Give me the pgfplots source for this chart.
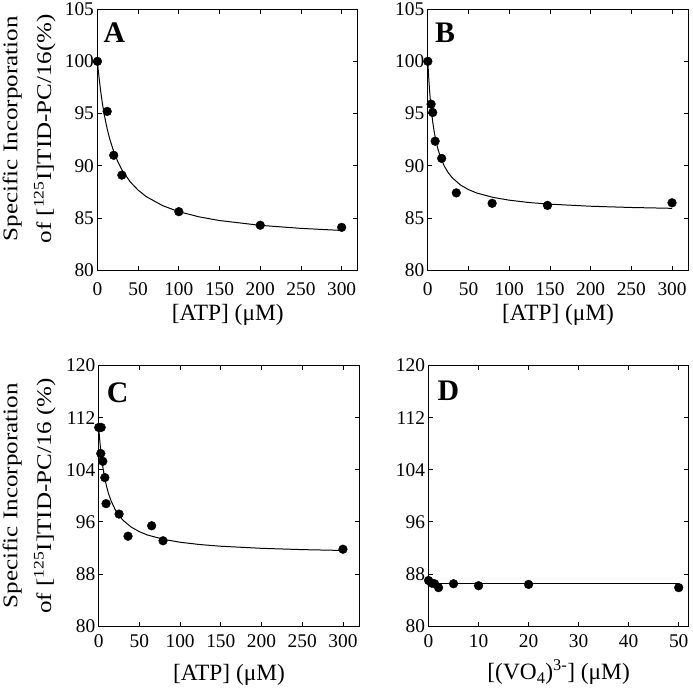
\documentclass[border=0pt]{standalone}
\usepackage{fontspec}
\setmainfont{Liberation Serif}
\usepackage{pgfplots}
\pgfplotsset{compat=1.18}
\newcommand\tfs{\fontsize{19.5}{21}\selectfont}
\newcommand\lfs{\fontsize{23.5}{26}\selectfont}
\newcommand\yfs{\fontsize{21}{34}\selectfont}
\newcommand\pfs{\fontsize{30}{30}\selectfont\bfseries}
\pgfplotsset{
 panel/.style={
  scale only axis, width=262pt, height=262.5pt, anchor=south west,
  tick align=inside, major tick length=4.5pt,
  axis line style={line width=0.9pt},
  every tick/.style={black, line width=0.8pt},
  tick label style={font=\tfs},
  /pgf/number format/assume math mode=true,
  y label style={font=\yfs, align=center, anchor=center},
  clip=false,
 },
 pts/.style={only marks, mark=*, mark size=4.4pt, black},
 fit/.style={no marks, black, line width=1pt},
}
\begin{document}
\begin{tikzpicture}
\useasboundingbox (-1pt,-1pt) rectangle (696pt,691pt);
% Panel A
\begin{axis}[panel, at={(97pt,419.3pt)},
  xmin=0, xmax=320, ymin=80, ymax=105,
  xtick={0,50,...,300}, ytick={80,85,...,105},
  x tick label style={yshift=-9pt},
  ylabel={\scalebox{1.2}[1]{Specific Incorporation}\\\scalebox{1.2}[1]{of [\textsuperscript{125}I]TID-PC/16(\%)}},
  y label style={at={(axis description cs:-0.262,0.542)}},
]
\addplot[fit] coordinates {(0,100)(1,99.18)(2,98.43)(4,97.12)(6,96.01)(8,95.06)(10,94.24)(12,93.52)(15,92.59)(20,91.36)(25,90.40)(30,89.63)(40,88.48)(50,87.66)(60,87.04)(80,86.18)(100,85.60)(125,85.10)(150,84.75)(200,84.29)(250,84.00)(300,83.80)};
\addplot[pts] coordinates {(0,100)(12,95.2)(20,91.0)(30,89.1)(100,85.6)(200,84.3)(300,84.1)};
\node[font=\pfs] at (rel axis cs:0.065,0.909) {A};
\node[font=\lfs, anchor=base] at ([yshift=-51pt]rel axis cs:0.5,0) {[ATP] (μM)};
\end{axis}
% Panel B
\begin{axis}[panel, at={(429.3pt,419.3pt)},
  xmin=0, xmax=320, ymin=80, ymax=105,
  xtick={0,50,...,300}, ytick={80,85,...,105},
  x tick label style={yshift=-9pt},
]
\addplot[fit] coordinates {(0,100)(1,98.55)(2,97.36)(3,96.38)(4,95.54)(6,94.20)(8,93.18)(10,92.37)(12,91.71)(15,90.94)(20,90.00)(25,89.34)(30,88.85)(40,88.16)(50,87.71)(60,87.39)(80,86.97)(100,86.70)(125,86.47)(150,86.32)(200,86.12)(250,86.00)(300,85.92)};
\addplot[pts] coordinates {(0,100)(4,95.9)(6,95.1)(9,92.35)(17,90.7)(35,87.4)(79,86.4)(147,86.2)(300,86.45)};
\node[font=\pfs] at (rel axis cs:0.066,0.91) {B};
\node[font=\lfs, anchor=base] at ([yshift=-51pt]rel axis cs:0.5,0) {[ATP] (μM)};
\end{axis}
% Panel C
\begin{axis}[panel, at={(98.3pt,61.3pt)}, height=262pt,
  xmin=0, xmax=320, ymin=80, ymax=120,
  xtick={0,50,...,300}, ytick={80,88,...,120},
  x tick label style={yshift=-5pt},
  ylabel={\scalebox{1.2}[1]{Specific Incorporation}\\\scalebox{1.2}[1]{of [\textsuperscript{125}I]TID-PC/16 (\%)}},
  y label style={at={(axis description cs:-0.267,0.5)}},
]
\addplot[fit] coordinates {(0,110.5)(1,108.89)(2,107.53)(3,106.36)(4,105.34)(6,103.66)(8,102.33)(10,101.25)(12,100.36)(15,99.28)(20,97.94)(25,96.96)(30,96.23)(40,95.19)(50,94.49)(60,93.98)(80,93.31)(100,92.87)(125,92.51)(150,92.26)(200,91.94)(250,91.74)(300,91.61)};
\addplot[pts] coordinates {(0,110.5)(3,110.5)(2.5,106.5)(5,105.3)(7.5,102.8)(9,98.8)(25,97.2)(36,93.8)(65,95.4)(79,93.1)(300,91.8)};
\node[font=\pfs] at (rel axis cs:0.073,0.897) {C};
\node[font=\lfs, anchor=base] at ([yshift=-55pt]rel axis cs:0.5,0) {[ATP] (μM)};
\end{axis}
% Panel D
\begin{axis}[panel, at={(430pt,61.3pt)}, height=262pt, width=261.7pt,
  xmin=0, xmax=52, ymin=80, ymax=120,
  xtick={0,10,...,50}, ytick={80,88,...,120},
  x tick label style={yshift=-5pt},
]
\addplot[fit] coordinates {(0,86.5)(50,86.5)};
\addplot[pts] coordinates {(0,87.0)(0.6,86.6)(1.2,86.5)(2,85.9)(5,86.5)(10,86.2)(20,86.4)(50,85.9)};
\node[font=\pfs] at (rel axis cs:0.076,0.903) {D};
\node[font=\lfs, anchor=base] at ([yshift=-54pt]rel axis cs:0.5,0) {[(VO\textsubscript{4})\textsuperscript{3-}] (μM)};
\end{axis}
\end{tikzpicture}
\end{document}
